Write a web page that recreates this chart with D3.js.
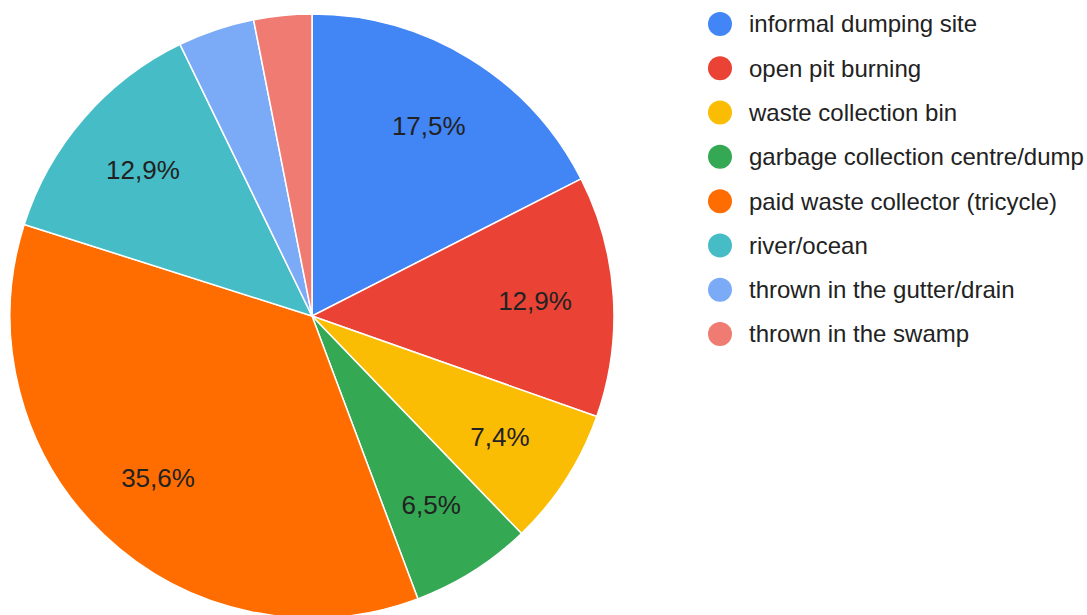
<!DOCTYPE html>
<html><head><meta charset="utf-8">
<script src="https://cdn.jsdelivr.net/npm/d3@7"></script>
<style>html,body{margin:0;padding:0;background:#fff;overflow:hidden}</style>
</head><body>
<svg id="chart" width="1087" height="615"></svg>
<script>
const categories = ["informal dumping site","open pit burning","waste collection bin","garbage collection centre/dump","paid waste collector (tricycle)","river/ocean","thrown in the gutter/drain","thrown in the swamp"];
const values = [17.5, 12.9, 7.4, 6.5, 35.6, 12.9, 4.1, 3.1];
const labels = ["17,5%","12,9%","7,4%","6,5%","35,6%","12,9%","",""];
const colors = ["#4285F4","#EA4335","#FBBC04","#34A853","#FF6D01","#46BDC6","#7BAAF7","#F07B72"];

const svg = d3.select("#chart");
const cx = 312, cy = 316, r = 302;
const font = "Arial, 'Liberation Sans', sans-serif";
const pie = d3.pie().sort(null).value(d => d)(values);
const arc = d3.arc().innerRadius(0).outerRadius(r);
const labelArc = d3.arc().innerRadius(r*0.74).outerRadius(r*0.74);
const color = d3.scaleOrdinal().domain(categories).range(colors);

const g = svg.append("g").attr("transform", `translate(${cx},${cy})`);
g.selectAll("path").data(pie).join("path")
  .attr("d", arc)
  .attr("fill", (d,i) => color(categories[i]))
  .attr("stroke", "#fff").attr("stroke-width", 1.5);
g.selectAll("text").data(pie).join("text")
  .attr("transform", d => `translate(${labelArc.centroid(d)})`)
  .attr("text-anchor", "middle").attr("dy", "0.35em")
  .attr("font-family", font).attr("font-size", 26).attr("fill", "#222")
  .text((d,i) => labels[i]);

const y = d3.scalePoint().domain(categories).range([24, 334]);
const leg = svg.append("g");
const items = leg.selectAll("g").data(categories).join("g")
  .attr("transform", d => `translate(720,${y(d)})`);
items.append("circle").attr("r", 12).attr("fill", d => color(d));
items.append("text").attr("x", 29).attr("dy", "0.35em")
  .attr("font-family", font).attr("font-size", 24).attr("fill", "#222")
  .text(d => d);
</script>
</body></html>
